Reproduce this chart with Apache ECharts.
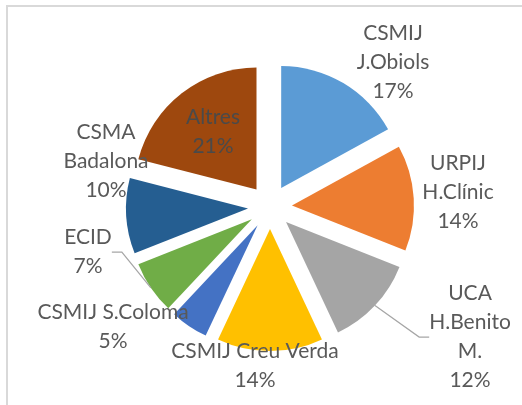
<!DOCTYPE html>
<html>
<head>
<meta charset="utf-8">
<script src="https://cdn.jsdelivr.net/npm/echarts@6/dist/echarts.min.js"></script>
<style>
  html, body { margin: 0; padding: 0; background: #fff; }
  #chart { width: 522px; height: 405px; }
</style>
</head>
<body>
<div id="chart"></div>
<script>
// categories and shares (%), clockwise from 12 o'clock
const names = ['CSMIJ\nJ.Obiols', 'URPIJ\nH.Clínic', 'UCA\nH.Benito\nM.', 'CSMIJ Creu Verda',
               'CSMIJ S.Coloma', 'ECID', 'CSMA\nBadalona', 'Altres']
const values = [17, 14, 12, 14, 5, 7, 10, 21]
const colors = ['#5B9BD5', '#ED7D31', '#A5A5A5', '#FFC000', '#4472C4', '#70AD47', '#255E91', '#9E480E']
// slices whose labels get a leader line
const withLine = ['ECID', 'UCA\nH.Benito\nM.']

// label anchor (centre of text block), like Excel's "best fit"
const labelPos = [
  [393, 62], [458, 192], [470, 337], [255, 366],
  [113, 327], [88, 252], [106, 161], [213, 132]
]

const myChart = echarts.init(document.getElementById('chart'))

const pieCenter = [270, 207]
const pieRadius = 122
const explode = 22

const option = {
  animation: false,
  graphic: [{
    type: 'rect',
    shape: { x: 7, y: 6, width: 600, height: 500 },
    style: { fill: 'none', stroke: '#D9D9D9', lineWidth: 2 },
    silent: true
  }],
  series: [
    // exploded slices (no labels)
    {
      type: 'pie',
      z: 2,
      center: pieCenter,
      radius: pieRadius,
      startAngle: 90,
      clockwise: true,
      selectedMode: 'multiple',
      selectedOffset: explode,
      silent: true,
      label: { show: false },
      labelLine: { show: false },
      data: names.map((n, i) => ({
        name: n, value: values[i], selected: true,
        itemStyle: { color: colors[i] }
      }))
    },
    // same pie, invisible, carries the data labels (radius reaches the exploded rim)
    {
      type: 'pie',
      z: 5,
      center: pieCenter,
      radius: pieRadius + explode,
      startAngle: 90,
      clockwise: true,
      silent: true,
      avoidLabelOverlap: false,
      itemStyle: { color: 'rgba(0,0,0,0)' },
      data: names.map((n, i) => ({
        name: n, value: values[i],
        labelLine: { show: withLine.indexOf(n) >= 0 },
        label: n === 'Altres' ? { color: '#4A4A4A' } : {}
      })),
      label: {
        show: true,
        position: 'outside',
        formatter: '{b}\n{d}%',
        color: '#595959',
        fontFamily: 'Lato',
        fontSize: 21,
        lineHeight: 29,
        align: 'center'
      },
      labelLine: {
        length: 8,
        length2: 10,
        lineStyle: { color: '#A6A6A6', width: 1.25 }
      },
      labelLayout: function (params) {
        const p = labelPos[params.dataIndex]
        return { x: p[0], y: p[1], align: 'center', verticalAlign: 'middle' }
      }
    }
  ]
}
myChart.setOption(option)
</script>
</body>
</html>
